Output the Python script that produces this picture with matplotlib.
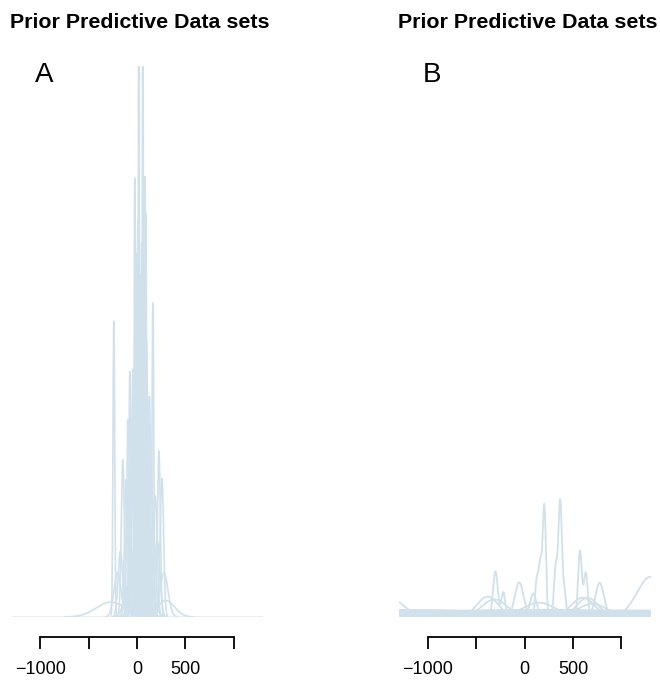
import numpy as np
import matplotlib
matplotlib.use("Agg")
import matplotlib.pyplot as plt

# Panel A: one bump per prior predictive data set (center, sd, peak height in % of panel)
a_center = [20, 62, -21, 83, 10, 93, 166, -238, -72, 228, 259, -145, -93, 114, -270,
            0, 35, 50, 75, -10, 40, 100, -40, 130, 25, 60, -55, 145, 5, 85,
            -110, 190, -30, 110, 45, -170, 210, -80, 160, 70, 0, 280, -200, 120, -60,
            300, 30, 15, 55, -5, 105, 70, 30]
a_sd = [6, 6, 7, 7, 7.5, 7.5, 9, 9, 11, 15, 18, 16, 13, 13.5, 150,
        10, 11, 9, 11, 12, 14, 12, 14, 14, 17, 16, 16, 16, 20, 20,
        18, 20, 24, 24, 27, 24, 27, 30, 32, 37, 42, 42, 37, 52, 57,
        90, 72, 9, 10, 13, 14, 20, 25]
a_height = [115, 115, 79.7, 79.9, 71.9, 73.3, 57, 53.7, 44.6, 30.1, 25.2, 28.5, 35.8, 34.5, 2.7,
            66, 62, 68, 60, 55, 50, 50, 45, 40, 42, 45, 36, 32, 35, 33,
            25, 22, 28, 26, 24, 12, 14, 18, 16, 15, 12, 8, 8, 8, 7,
            3, 6, 58, 52, 48, 42, 38, 30]

# Panel B: components (curve id, center, sd, peak height in % of panel)
b_curve = [0, 0, 0, 1, 1, 1, 2, 2, 3, 3, 4, 5, 6, 7,
           8, 9, 10, 11, 12, 13, 14,
           15, 16, 17, 18, 19, 20, 21, 22, 23, 24, 25, 26, 27, 28, 29,
           30, 31, 32, 33, 34, 35, 36, 37, 38, 39, 40, 41, 42, 43, 44]
b_center = [368, 322, 412, 205, 162, 122, 572, 632, -300, -220, -55, 775, 1300, -1350,
            -380, -310, 150, 650, 700, 600, 90,
            -900, -400, 0, 300, 800, -1200, 1200, -600, 600, 100, -200, 1000, -1000, 400, -700,
            200, 900, -300, 500, -800, 0, 700, -1300, 1300, -100, 1500, -1500, 250, -50, 650]
b_sd = [18, 18, 15, 16, 20, 15, 19, 20, 24, 20, 45, 45, 140, 120,
        110, 130, 170, 110, 150, 120, 35,
        900, 1200, 1500, 800, 1000, 700, 900, 600, 700, 2000, 900, 1400, 1600, 1800, 2500,
        3000, 600, 500, 400, 450, 700, 2000, 1100, 500, 350, 1000, 900, 1200, 900, 300]
b_height = [21, 9, 4.5, 19.5, 10, 5.5, 12, 8, 8.3, 4.5, 6.3, 6.2, 7.3, 3,
            3.7, 3.2, 2.6, 3.5, 2.4, 3.5, 4.2,
            1.2, 1.0, 0.9, 1.3, 1.1, 0.8, 0.9, 1.0, 0.7, 0.6, 1.25, 1.2, 0.5, 0.4, 0.3,
            1.15, 0.8, 0.9, 1.0, 0.7, 1.1, 0.95, 1.3, 1.1, 1.2, 0.6, 0.75, 0.35, 0.55, 0.9]

x_ticks = [-1000, -500, 0, 500, 1000]
x_labels = ["\u22121000", "", "0", "500", ""]

line_col = "#d1e1ec"
xgrid = np.linspace(-1300, 1310, 4000)


def bump(c, s, h):
    return h * np.exp(-0.5 * ((xgrid - c) / s) ** 2)


def setup(ax):
    ax.set_xlim(-1295, 1302)
    ax.set_ylim(0, 100)
    for side in ["left", "right", "top"]:
        ax.spines[side].set_visible(False)
    ax.spines["bottom"].set_position(("outward", 14.4))
    ax.spines["bottom"].set_bounds(-1000, 1000)
    ax.spines["bottom"].set_linewidth(1.3)
    ax.set_yticks([])
    ax.set_xticks(x_ticks)
    ax.set_xticklabels(x_labels)
    ax.tick_params(axis="x", length=8.6, width=1.3, pad=9, labelsize=13)
    ax.axhline(0, color="#a8a8a8", lw=1.0, zorder=1)


plt.rcParams["font.family"] = ["Liberation Sans", "DejaVu Sans"]
fig = plt.figure(figsize=(6.6, 6.8), dpi=100)
W, H = 660.0, 680.0
ax_a = fig.add_axes([11.7 / W, 1 - 617 / H, 251 / W, 551 / H])
ax_b = fig.add_axes([399 / W, 1 - 617 / H, 251.7 / W, 551 / H])

setup(ax_a)
for c, s, h in zip(a_center, a_sd, a_height):
    # density only drawn over the range of its data set
    m = np.abs(xgrid - c) <= 3.2 * s
    ax_a.plot(xgrid[m], bump(c, s, h)[m], color=line_col, lw=1.2, zorder=2)

setup(ax_b)
curves = {}
for k, c, s, h in zip(b_curve, b_center, b_sd, b_height):
    curves[k] = curves.get(k, 0) + bump(c, s, h)
for k in sorted(curves):
    y = curves[k]
    m = y >= 0.03 * y.max()
    ax_b.plot(xgrid[m], y[m], color=line_col, lw=1.3, zorder=2)

for x0 in [10, 398]:
    fig.text(x0 / W, 1 - 22 / H, "Prior Predictive Data sets", fontsize=15.4,
             fontweight="bold", ha="left", va="center")
for x0, lab in [(44, "A"), (432, "B")]:
    fig.text(x0 / W, 1 - 75 / H, lab, fontsize=20, ha="center", va="center")

fig.savefig("out.png", dpi=100)
